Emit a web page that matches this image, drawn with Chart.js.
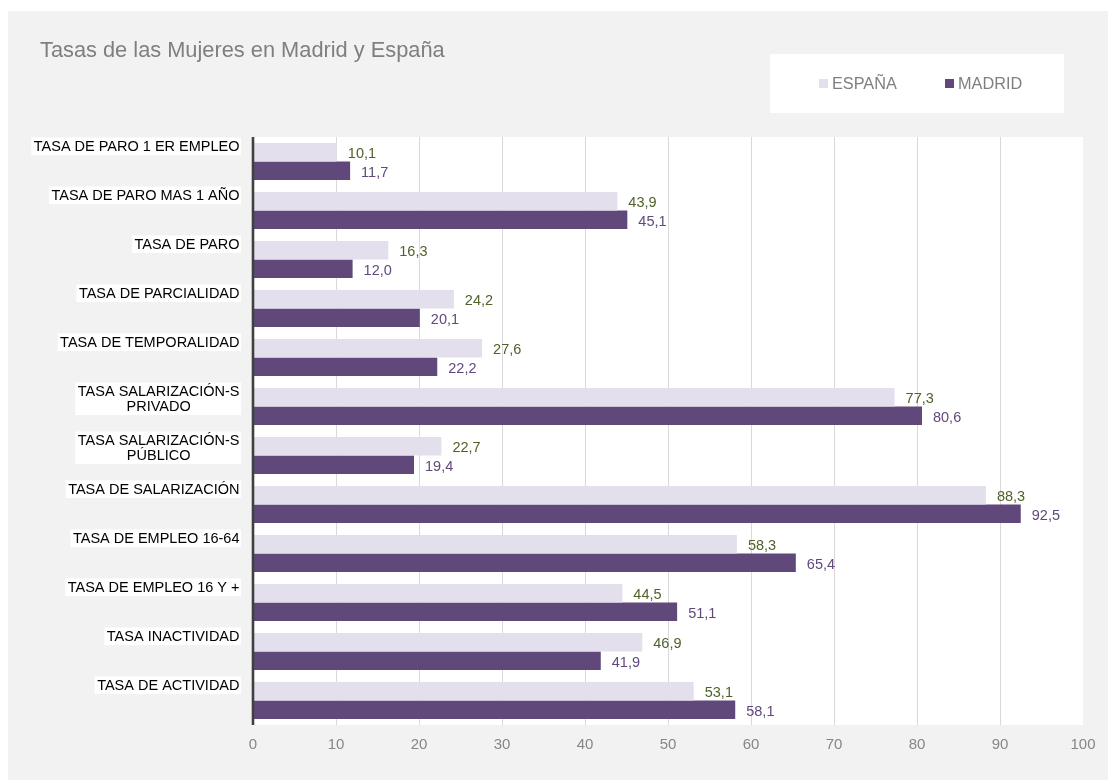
<!DOCTYPE html>
<html>
<head>
<meta charset="utf-8">
<script src="https://cdn.jsdelivr.net/npm/chart.js@4/dist/chart.umd.min.js"></script>
<style>
  body { margin: 0; background: #ffffff; }
  #panel { position: absolute; left: 8px; top: 11px; width: 1100px; height: 769px; background: #f2f2f2; }
</style>
</head>
<body>
<div id="panel"><canvas id="chart" width="1100" height="769"></canvas></div>
<script>
const title = 'Tasas de las Mujeres en Madrid y España';
const categories = [
  ['TASA DE PARO 1 ER EMPLEO'],
  ['TASA DE PARO MAS 1 AÑO'],
  ['TASA DE PARO'],
  ['TASA DE PARCIALIDAD'],
  ['TASA DE TEMPORALIDAD'],
  ['TASA SALARIZACIÓN-S', 'PRIVADO'],
  ['TASA SALARIZACIÓN-S', 'PÚBLICO'],
  ['TASA DE SALARIZACIÓN'],
  ['TASA DE EMPLEO 16-64'],
  ['TASA DE EMPLEO 16 Y +'],
  ['TASA INACTIVIDAD'],
  ['TASA DE ACTIVIDAD']
];
const espana = [10.1, 43.9, 16.3, 24.2, 27.6, 77.3, 22.7, 88.3, 58.3, 44.5, 46.9, 53.1];
const madrid = [11.7, 45.1, 12.0, 20.1, 22.2, 80.6, 19.4, 92.5, 65.4, 51.1, 41.9, 58.1];
const seriesNames = ['ESPAÑA', 'MADRID'];
const xTicks = [0, 10, 20, 30, 40, 50, 60, 70, 80, 90, 100];

const FONT = '"Liberation Sans", Arial, sans-serif';
const barColors = ['#e4dfec', '#60497a'];
const valueColors = ['#4f6228', '#60497a'];

const fmt = v => v.toFixed(1).replace('.', ',');

// white plot area, title and boxed legend
const decorations = {
  id: 'decorations',
  beforeDraw(chart) {
    const { ctx, chartArea } = chart;
    ctx.save();
    ctx.fillStyle = '#ffffff';
    ctx.fillRect(chartArea.left, chartArea.top, chartArea.right - chartArea.left, chartArea.bottom - chartArea.top);

    ctx.fillStyle = '#7f7f7f';
    ctx.font = '21.8px ' + FONT;
    ctx.textBaseline = 'alphabetic';
    ctx.textAlign = 'left';
    ctx.fillText(title, 32, 46);

    ctx.fillStyle = '#ffffff';
    ctx.fillRect(762, 43, 294, 59);
    ctx.font = '16.3px ' + FONT;
    const legendX = [811, 937];
    seriesNames.forEach((name, i) => {
      ctx.fillStyle = barColors[i];
      ctx.fillRect(legendX[i], 68, 9, 9);
      ctx.fillStyle = '#7f7f7f';
      ctx.fillText(name, legendX[i] + 13, 78);
    });
    ctx.restore();
  }
};

// category labels, top aligned in their band, on a white backdrop
const categoryLabels = {
  id: 'categoryLabels',
  afterDraw(chart) {
    const { ctx } = chart;
    const y = chart.scales.y;
    const band = (y.bottom - y.top) / categories.length;
    const right = 231.5;
    const lineH = 15;
    ctx.save();
    ctx.font = '14.5px ' + FONT;
    ctx.textBaseline = 'middle';
    ctx.textAlign = 'center';
    categories.forEach((lines, i) => {
      const top = y.getPixelForTick(i) - band / 2;
      const w = Math.max(...lines.map(l => ctx.measureText(l).width));
      const cx = right - w / 2;
      ctx.fillStyle = '#ffffff';
      ctx.fillRect(right - w - 2.5, top + 0.5, w + 4, lineH * lines.length + 2.5);
      ctx.fillStyle = '#000000';
      lines.forEach((l, k) => ctx.fillText(l, cx, top + 9.5 + lineH * k));
    });
    ctx.restore();
  }
};

// value labels to the right of each bar, then the category axis line on top
const valueLabels = {
  id: 'valueLabels',
  afterDatasetsDraw(chart) {
    const { ctx, chartArea } = chart;
    ctx.save();
    ctx.font = '14.5px ' + FONT;
    ctx.textBaseline = 'middle';
    ctx.textAlign = 'left';
    chart.data.datasets.forEach((ds, di) => {
      ctx.fillStyle = valueColors[di];
      chart.getDatasetMeta(di).data.forEach((bar, i) => {
        ctx.fillText(fmt(ds.data[i]), bar.x + 11, bar.y + 2);
      });
    });
    ctx.strokeStyle = '#404040';
    ctx.lineWidth = 2.6;
    ctx.beginPath();
    ctx.moveTo(chartArea.left, chartArea.top);
    ctx.lineTo(chartArea.left, chartArea.bottom);
    ctx.stroke();
    ctx.restore();
  }
};

new Chart(document.getElementById('chart'), {
  type: 'bar',
  data: {
    labels: categories.map(c => c.join(' ')),
    datasets: [
      { label: seriesNames[0], data: espana, backgroundColor: barColors[0] },
      { label: seriesNames[1], data: madrid, backgroundColor: barColors[1] }
    ]
  },
  options: {
    indexAxis: 'y',
    responsive: false,
    animation: false,
    events: [],
    categoryPercentage: 0.755,
    barPercentage: 1,
    layout: { padding: { left: 0, top: 126, right: 25, bottom: 27 } },
    scales: {
      x: {
        min: 0,
        max: 100,
        afterBuildTicks: scale => { scale.ticks = xTicks.map(v => ({ value: v })); },
        afterFit: scale => { scale.height = 28; },
        grid: {
          color: ctx => (ctx.tick && ctx.tick.value === 100 ? 'rgba(0,0,0,0)' : '#d9d9d9'),
          lineWidth: 1,
          drawTicks: false
        },
        border: { display: false },
        ticks: { padding: 11, color: '#868686', font: { family: FONT, size: 15 } }
      },
      y: {
        afterFit: scale => { scale.width = 245; },
        grid: { display: false, drawTicks: false },
        border: { display: false },
        ticks: { display: false }
      }
    },
    plugins: {
      legend: { display: false },
      title: { display: false },
      tooltip: { enabled: false }
    }
  },
  plugins: [decorations, valueLabels, categoryLabels]
});
</script>
</body>
</html>
